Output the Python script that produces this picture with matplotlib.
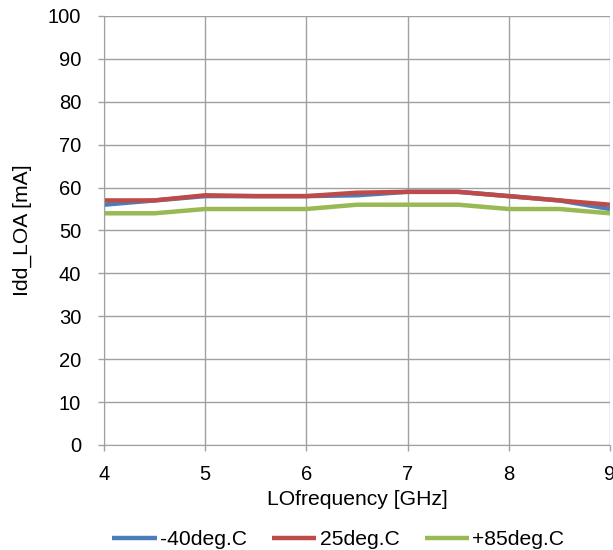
import matplotlib
matplotlib.use("Agg")
import matplotlib.pyplot as plt

plt.rcParams['font.family'] = ['Liberation Sans', 'DejaVu Sans']

freq = [4, 4.5, 5, 5.5, 6, 6.5, 7, 7.5, 8, 8.5, 9]
idd_m40 = [56, 57, 58, 58, 58, 58.2, 59, 59, 58, 57, 55]
idd_25 = [57, 57, 58.2, 58, 58, 58.8, 59, 59, 58, 57, 56]
idd_85 = [54, 54, 55, 55, 55, 56, 56, 56, 55, 55, 54]

labels = ['-40deg.C', '25deg.C', '+85deg.C']
colors = ['#4a7ebb', '#be4b48', '#98b954']

fig = plt.figure(figsize=(6.13, 5.5), dpi=100)
ax = fig.add_axes([0.1697, 0.191, 0.8253, 0.780])

for ys, lab, c in zip([idd_m40, idd_25, idd_85], labels, colors):
    ax.plot(freq, ys, color=c, linewidth=3.2, label=lab, solid_capstyle='butt')

ax.set_xlim(4, 9)
ax.set_ylim(0, 100)
ax.set_xticks(range(4, 10))
ax.set_yticks(range(0, 101, 10))
ax.grid(True, color='#a0a0a0', linewidth=1)
ax.set_axisbelow(True)
for s in ax.spines.values():
    s.set_visible(False)
ax.spines['left'].set_visible(True)
ax.spines['bottom'].set_visible(True)
ax.spines['left'].set_color('#a0a0a0')
ax.spines['bottom'].set_color('#a0a0a0')
ax.tick_params(axis='both', colors='#a0a0a0', labelcolor='black', labelsize=14.5,
               length=4.5, width=1)
ax.tick_params(axis='y', pad=12)
ax.tick_params(axis='x', pad=10)

ax.set_xlabel('LOfrequency [GHz]', fontsize=15.2, labelpad=4)
ax.set_ylabel('Idd_LOA [mA]', fontsize=15.2, labelpad=11)

ax.legend(loc='upper center', bbox_to_anchor=(0.463, -0.155), ncol=3, frameon=False,
          fontsize=15.2, handlelength=2.1, handletextpad=0.15, columnspacing=1.2)

fig.savefig('out.png', dpi=100)
